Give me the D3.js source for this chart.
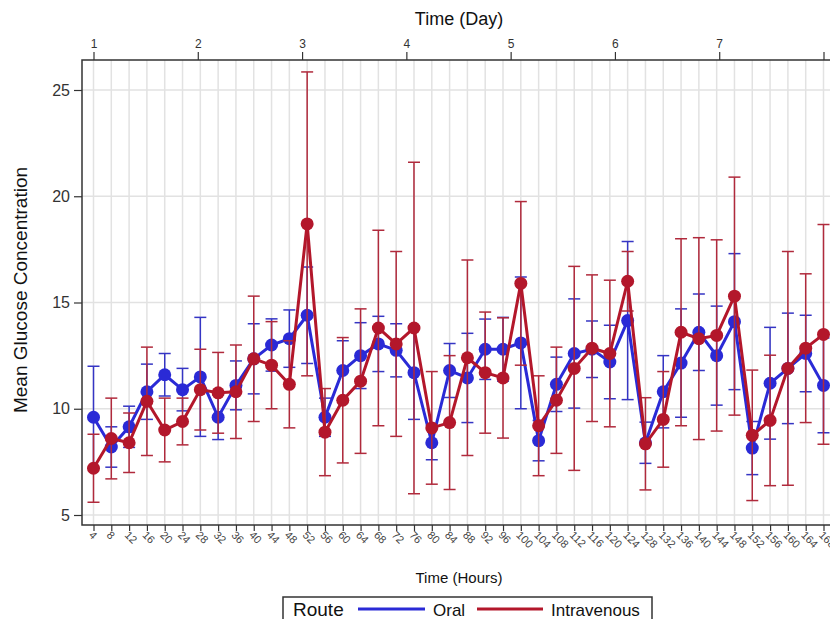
<!DOCTYPE html>
<html>
<head>
<meta charset="utf-8">
<script src="https://cdn.jsdelivr.net/npm/d3@7"></script>
<style>
  body { margin: 0; background: #fff; }
  svg { font-family: "Liberation Sans", Arial, sans-serif; }
</style>
</head>
<body>
<div id="plot"></div>
<script>
// time points (hours) and days on the top axis
const hours = [4, 8, 12, 16, 20, 24, 28, 32, 36, 40, 44, 48, 52, 56, 60, 64, 68, 72, 76, 80, 84,
               88, 92, 96, 100, 104, 108, 112, 116, 120, 124, 128, 132, 136, 140, 144, 148, 152, 156, 160, 164, 168];
const days = [1, 2, 3, 4, 5, 6, 7, 8];
const yTicks = [5, 10, 15, 20, 25];

// mean glucose and error bar half-width per route
const oralMean = [9.6, 8.2, 9.15, 10.8, 11.6, 10.9, 11.5, 9.6, 11.1, 12.35, 13.0, 13.3, 14.4, 9.6, 11.8, 12.5, 13.05, 12.75, 11.7, 8.4, 11.8,
                  11.45, 12.8, 12.8, 13.1, 8.5, 11.15, 12.6, 12.8, 12.2, 14.15, 8.4, 10.8, 12.15, 13.6, 12.5, 14.1, 8.15, 11.2, 11.9, 12.6, 11.1];
const oralErr = [2.4, 0.95, 0.97, 1.3, 1.0, 1.0, 2.8, 1.05, 1.15, 1.65, 1.23, 1.35, 2.27, 0.9, 1.4, 1.55, 1.3, 1.25, 2.2, 0.8, 1.27,
                 2.1, 1.42, 1.5, 3.1, 0.95, 1.28, 2.57, 1.33, 1.73, 3.72, 0.97, 1.7, 2.55, 1.8, 2.33, 3.2, 1.25, 2.63, 2.6, 1.8, 2.23];
const ivMean = [7.2, 8.6, 8.4, 10.35, 9.0, 9.4, 10.9, 10.75, 10.8, 12.35, 12.05, 11.15, 18.7, 8.9, 10.4, 11.3, 13.8, 13.05, 13.8, 9.1, 9.35,
                12.4, 11.7, 11.45, 15.9, 9.2, 10.4, 11.9, 12.85, 12.6, 16.0, 8.35, 9.5, 13.6, 13.3, 13.45, 15.3, 8.75, 9.45, 11.9, 12.85, 13.5];
const ivErr = [1.6, 1.9, 1.4, 2.55, 1.5, 1.1, 1.9, 1.9, 2.2, 2.95, 2.05, 2.05, 7.15, 2.05, 2.95, 3.4, 4.6, 4.35, 7.8, 2.65, 3.15,
               4.6, 2.85, 2.83, 3.85, 2.35, 2.5, 4.8, 3.45, 3.45, 1.4, 2.17, 2.25, 4.4, 4.75, 4.5, 5.6, 3.07, 3.07, 5.5, 3.5, 5.17];

const routes = [
  {name: "Oral", mean: oralMean, err: oralErr, color: "#2a2ad6", barColor: "#3535c4"},
  {name: "Intravenous", mean: ivMean, err: ivErr, color: "#b3172b", barColor: "#b02a3c"}
];

const W = 830, H = 619;
const frame = {left: 82, right: 836, top: 60, bottom: 525};

const svg = d3.select("#plot").append("svg")
    .attr("width", W)
    .attr("height", H);

const x = d3.scaleLinear().domain([4, 168]).range([93.5, 823.5]);
const xDay = d3.scaleLinear().domain([1, 8]).range([93.5, 823.5]);
const y = d3.scaleLinear().domain([5, 25]).range([515, 90]);

// grid
const grid = svg.append("g").attr("stroke", "#e2e2e2").attr("stroke-width", 1.5);
grid.selectAll(".vg").data(hours).join("line")
    .attr("x1", d => x(d)).attr("x2", d => x(d))
    .attr("y1", frame.top).attr("y2", frame.bottom);
grid.selectAll(".hg").data(yTicks).join("line")
    .attr("x1", frame.left).attr("x2", frame.right)
    .attr("y1", d => y(d)).attr("y2", d => y(d));

// frame
svg.append("rect")
    .attr("x", frame.left).attr("y", frame.top)
    .attr("width", frame.right - frame.left).attr("height", frame.bottom - frame.top)
    .attr("fill", "none").attr("stroke", "#333").attr("stroke-width", 1.5);

// bottom axis (hours)
const xAxis = svg.append("g")
    .attr("transform", `translate(0,${frame.bottom})`)
    .call(d3.axisBottom(x).tickValues(hours).tickSize(6).tickSizeOuter(0).tickPadding(4));
xAxis.select(".domain").remove();
xAxis.selectAll(".tick line").attr("stroke", "#333").attr("stroke-width", 1.2);
xAxis.selectAll(".tick text")
    .attr("font-size", 11).attr("fill", "#444")
    .attr("text-anchor", "start")
    .attr("transform", "translate(-3,8) rotate(45)")
    .attr("dy", "0.35em").attr("y", 0).attr("x", 0);

// top axis (days); the last label falls outside the picture
const topAxis = svg.append("g")
    .attr("transform", `translate(0,${frame.top})`)
    .call(d3.axisTop(xDay).tickValues(days).tickSize(8).tickSizeOuter(0).tickPadding(4)
      .tickFormat(d => d < 8 ? d3.format("d")(d) : ""));
topAxis.select(".domain").remove();
topAxis.selectAll(".tick line").attr("stroke", "#333").attr("stroke-width", 1.2);
topAxis.selectAll(".tick text").attr("font-size", 12).attr("fill", "#333");

// left axis
const yAxis = svg.append("g")
    .attr("transform", `translate(${frame.left},0)`)
    .call(d3.axisLeft(y).tickValues(yTicks).tickSize(8).tickSizeOuter(0).tickPadding(4));
yAxis.select(".domain").remove();
yAxis.selectAll(".tick line").attr("stroke", "#333").attr("stroke-width", 1.2);
yAxis.selectAll(".tick text").attr("font-size", 16).attr("fill", "#333");

// axis titles
svg.append("text")
    .attr("x", 459).attr("y", 25)
    .attr("text-anchor", "middle").attr("font-size", 18).attr("fill", "#111")
    .text("Time (Day)");
svg.append("text")
    .attr("x", 459).attr("y", 583)
    .attr("text-anchor", "middle").attr("font-size", 15).attr("fill", "#111")
    .text("Time (Hours)");
svg.append("text")
    .attr("transform", "translate(27,290) rotate(-90)")
    .attr("text-anchor", "middle").attr("font-size", 19).attr("fill", "#111")
    .text("Mean Glucose Concentration");

// series
const capW = 6;
routes.forEach(r => {
  const pts = hours.map((h, i) => ({h: h, m: r.mean[i], e: r.err[i]}));
  const g = svg.append("g");

  const bars = g.append("g").attr("stroke", r.barColor).attr("stroke-width", 1.5);
  bars.selectAll(".v").data(pts).join("line")
      .attr("x1", d => x(d.h)).attr("x2", d => x(d.h))
      .attr("y1", d => y(d.m - d.e)).attr("y2", d => y(d.m + d.e));
  bars.selectAll(".top").data(pts).join("line")
      .attr("x1", d => x(d.h) - capW).attr("x2", d => x(d.h) + capW)
      .attr("y1", d => y(d.m + d.e)).attr("y2", d => y(d.m + d.e));
  bars.selectAll(".bot").data(pts).join("line")
      .attr("x1", d => x(d.h) - capW).attr("x2", d => x(d.h) + capW)
      .attr("y1", d => y(d.m - d.e)).attr("y2", d => y(d.m - d.e));

  g.append("path")
      .datum(pts)
      .attr("fill", "none")
      .attr("stroke", r.color)
      .attr("stroke-width", 3)
      .attr("d", d3.line().x(d => x(d.h)).y(d => y(d.m)));

  g.selectAll("circle").data(pts).join("circle")
      .attr("cx", d => x(d.h)).attr("cy", d => y(d.m))
      .attr("r", 6.5)
      .attr("fill", r.color);
});

// legend
const lg = svg.append("g");
lg.append("rect")
    .attr("x", 283).attr("y", 597).attr("width", 369).attr("height", 30)
    .attr("fill", "#fff").attr("stroke", "#333").attr("stroke-width", 1.5);
lg.append("text").attr("x", 293).attr("y", 616).attr("font-size", 19).attr("fill", "#111").text("Route");
lg.append("line").attr("x1", 358).attr("x2", 425).attr("y1", 609).attr("y2", 609)
    .attr("stroke", routes[0].color).attr("stroke-width", 3);
lg.append("text").attr("x", 433).attr("y", 616).attr("font-size", 17).attr("fill", "#111").text("Oral");
lg.append("line").attr("x1", 477).attr("x2", 543).attr("y1", 609).attr("y2", 609)
    .attr("stroke", routes[1].color).attr("stroke-width", 3);
lg.append("text").attr("x", 551).attr("y", 616).attr("font-size", 17).attr("fill", "#111").text("Intravenous");
</script>
</body>
</html>
